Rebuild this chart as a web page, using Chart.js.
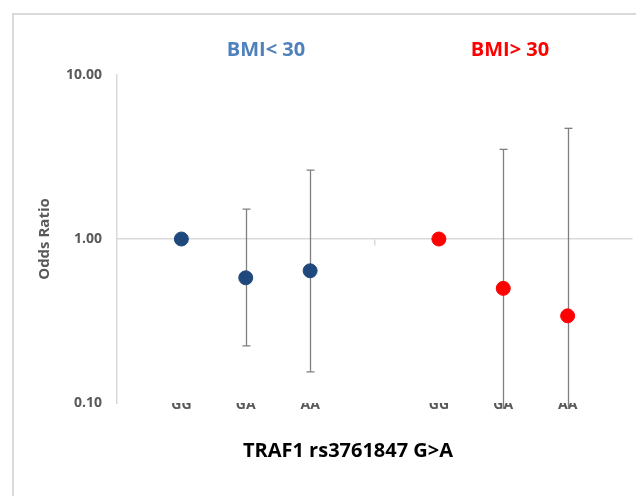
<!DOCTYPE html>
<html>
<head>
<meta charset="utf-8">
<script src="https://cdn.jsdelivr.net/npm/chart.js@4/dist/chart.umd.min.js"></script>
<style>
  html, body { margin: 0; padding: 0; background: #ffffff; overflow: hidden; }
  #wrap { position: relative; width: 636px; height: 496px; }
  #frame { position: absolute; left: 12px; top: 13px; width: 700px; height: 600px;
           border-left: 2px solid #d9d9d9; border-top: 2px solid #d9d9d9; }
  canvas { position: absolute; left: 0; top: 0; }
</style>
</head>
<body>
<div id="wrap">
  <div id="frame"></div>
  <canvas id="c" width="636" height="496"></canvas>
</div>
<script>
// ---- data ----
const categories = ['GG', 'GA', 'AA'];
const groupNames = ['BMI< 30', 'BMI> 30'];
const groupColors = ['#1f497d', '#ff0000'];
const headerColors = ['#4f81bd', '#ff0000'];
const xAxisTitle = 'TRAF1 rs3761847 G>A';
const yAxisTitle = 'Odds Ratio';
const yTickValues = [0.1, 1, 10];

const oddsLowBMI  = [1.00, 0.58, 0.64];
const lowerLowBMI = [null, 0.223, 0.155];
const upperLowBMI = [null, 1.52, 2.63];

const oddsHighBMI  = [1.00, 0.50, 0.34];
const lowerHighBMI = [null, 0.092, 0.092];
const upperHighBMI = [null, 3.52, 4.73];

// ---- build ----
const groupSize = categories.length + 1;  // one empty slot separating the groups
const odds = [oddsLowBMI, oddsHighBMI];
const lowers = [lowerLowBMI, lowerHighBMI];
const uppers = [upperLowBMI, upperHighBMI];

const datasets = groupNames.map((name, g) => ({
  label: name,
  data: odds[g].map((v, i) => ({ x: g * groupSize + i + 1, y: v, lo: lowers[g][i], hi: uppers[g][i] })),
  backgroundColor: groupColors[g],
  borderColor: groupColors[g],
  pointRadius: 7,
  pointHoverRadius: 7,
  showLine: false
}));

const tickLabelMap = {};
groupNames.forEach((n, g) => categories.forEach((c, i) => { tickLabelMap[g * groupSize + i + 1] = c; }));
const xMax = groupNames.length * groupSize;

const FONT = '"Open Sans", Lato, sans-serif';

const errorBars = {
  id: 'errorBars',
  beforeDatasetsDraw(chart) {
    const ctx = chart.ctx;
    const xs = chart.scales.x, ys = chart.scales.y;
    ctx.save();
    ctx.strokeStyle = '#7f7f7f';
    ctx.lineWidth = 1.3;
    const minY = ys.min;
    chart.data.datasets.forEach(ds => {
      ds.data.forEach(p => {
        if (p.lo == null || p.hi == null) return;
        const px = Math.round(xs.getPixelForValue(p.x)) + 0.5;
        const yHi = ys.getPixelForValue(p.hi);
        const yLo = ys.getPixelForValue(p.lo);
        ctx.beginPath();
        ctx.moveTo(px, yHi);
        ctx.lineTo(px, yLo);
        ctx.stroke();
        ctx.beginPath();
        ctx.moveTo(px - 4, yHi); ctx.lineTo(px + 4, yHi);
        if (p.lo >= minY) { ctx.moveTo(px - 4, yLo); ctx.lineTo(px + 4, yLo); }
        ctx.stroke();
      });
    });
    ctx.restore();
  }
};

const texts = {
  id: 'texts',
  afterDraw(chart) {
    const ctx = chart.ctx;
    ctx.save();
    ctx.textAlign = 'center';
    ctx.textBaseline = 'middle';
    ctx.font = 'bold 20px ' + FONT;
    ctx.fillStyle = headerColors[0];
    ctx.fillText(groupNames[0], 266, 50);
    ctx.fillStyle = headerColors[1];
    ctx.fillText(groupNames[1], 510, 50);
    ctx.fillStyle = '#000000';
    ctx.font = 'bold 20px ' + FONT;
    ctx.fillText(xAxisTitle, 348, 451);
    ctx.restore();
  }
};

const noSidePad = s => { s.paddingLeft = 0; s.paddingRight = 0; };

new Chart(document.getElementById('c'), {
  type: 'scatter',
  data: { datasets },
  options: {
    responsive: false,
    animation: false,
    devicePixelRatio: 1,
    layout: { autoPadding: false, padding: { top: 75, right: 4, left: 0, bottom: 0 } },
    plugins: { legend: { display: false }, tooltip: { enabled: false }, title: { display: false } },
    scales: {
      x: {
        type: 'linear', position: 'bottom', min: 0, max: xMax,
        afterBuildTicks: s => { s.ticks = Object.keys(tickLabelMap).map(v => ({ value: +v })); },
        afterFit: s => { s.height = 93; noSidePad(s); },
        grid: { display: false, drawTicks: false },
        border: { display: false },
        ticks: {
          callback: v => tickLabelMap[v] || '',
          color: '#595959', font: { family: FONT, size: 14, weight: 'bold' },
          padding: -6, maxRotation: 0, autoSkip: false
        }
      },
      xMid: {
        type: 'linear', axis: 'x', position: { y: 1 }, min: 0, max: xMax,
        afterBuildTicks: s => { s.ticks = [{ value: xMax / 2 }]; },
        afterFit: s => { noSidePad(s); },
        grid: { drawOnChartArea: false, drawTicks: true, tickLength: 6, color: '#d9d9d9', lineWidth: 1.5 },
        border: { display: true, color: '#d9d9d9', width: 1.5 },
        ticks: { display: false }
      },
      y: {
        type: 'logarithmic', position: 'left', min: 0.1, max: 10,
        afterBuildTicks: s => { s.ticks = yTickValues.map(v => ({ value: v })); },
        afterFit: s => { s.width = 117; },
        grid: { display: false, drawTicks: false },
        border: { display: true, color: '#d9d9d9', width: 1.5 },
        ticks: {
          callback: v => Number(v).toFixed(2),
          color: '#595959', font: { family: FONT, size: 14, weight: 'bold' },
          padding: 15
        },
        title: {
          display: true, text: yAxisTitle, color: '#595959',
          font: { family: FONT, size: 15, weight: 'bold' },
          padding: { top: 36, bottom: 0 }
        }
      }
    }
  },
  plugins: [errorBars, texts]
});
</script>
</body>
</html>
